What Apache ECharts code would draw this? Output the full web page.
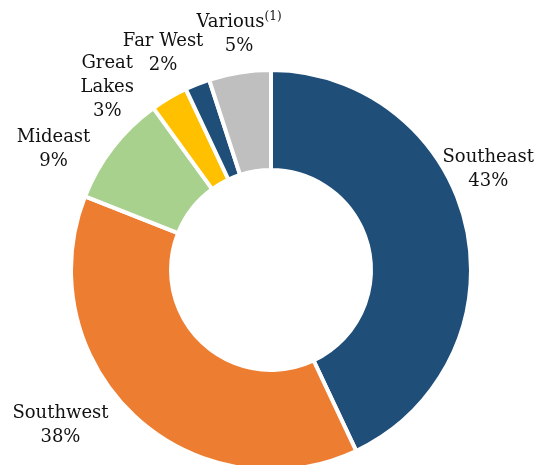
<!DOCTYPE html>
<html>
<head>
<meta charset="utf-8">
<script src="https://cdn.jsdelivr.net/npm/echarts@6/dist/echarts.min.js"></script>
<style>
  html, body { margin: 0; padding: 0; background: #fff; }
  #chart { width: 535px; height: 465px; }
</style>
</head>
<body>
<div id="chart"></div>
<script>
// Regional mix, share of total (%)
const regions = ['Southeast', 'Southwest', 'Mideast', 'Great Lakes', 'Far West', 'Various'];
const shares = [43, 38, 9, 3, 2, 5];
const footnotes = ['', '', '', '', '', '(1)'];

// Presentation settings
const colors = ['#1F4E79', '#ED7D31', '#A9D18E', '#FFC000', '#1F4E79', '#BFBFBF'];
const CX = 271, CY = 270, R_IN = 100, R_OUT = 200;
const RIM = 198; // visible outer edge once the white border is drawn
// label centre offset from the outer rim at each slice's mid-angle
const labelOffsets = [[24, -57], [-75, 11], [-61, 1], [-63, -12], [-35, -33], [-1, -40]];

const total = shares.reduce((a, b) => a + b, 0);
const midAngles = [];
let acc = 0;
shares.forEach(v => { midAngles.push((acc + v / 2) / total * 2 * Math.PI); acc += v; });

const chart = echarts.init(document.getElementById('chart'), null, { renderer: 'canvas' });
chart.setOption({
  animation: false,
  backgroundColor: '#ffffff',
  series: [{
    type: 'pie',
    center: [CX, CY],
    radius: [R_IN, R_OUT],
    startAngle: 90,
    clockwise: true,
    avoidLabelOverlap: false,
    itemStyle: { borderColor: '#ffffff', borderWidth: 4 },
    label: {
      show: true,
      position: 'outside',
      fontFamily: 'DejaVu Serif',
      fontSize: 18,
      lineHeight: 24,
      color: '#111111',
      formatter: p => {
        const name = p.name === 'Great Lakes' ? 'Great\nLakes' : p.name;
        const sup = footnotes[p.dataIndex] ? '{sup|' + footnotes[p.dataIndex] + '}' : '';
        return name + sup + '\n' + p.value + '%';
      },
      rich: {
        sup: { fontFamily: 'DejaVu Serif', fontSize: 12, lineHeight: 24, verticalAlign: 'top', color: '#111111' }
      }
    },
    labelLine: { show: false },
    labelLayout: params => {
      const i = params.dataIndex;
      const a = midAngles[i];
      const ex = CX + RIM * Math.sin(a);
      const ey = CY - RIM * Math.cos(a);
      return {
        x: ex + labelOffsets[i][0],
        y: ey + labelOffsets[i][1],
        align: 'center',
        verticalAlign: 'middle'
      };
    },
    emphasis: { disabled: true },
    data: regions.map((n, i) => ({ name: n, value: shares[i], itemStyle: { color: colors[i] } }))
  }]
});
</script>
</body>
</html>
